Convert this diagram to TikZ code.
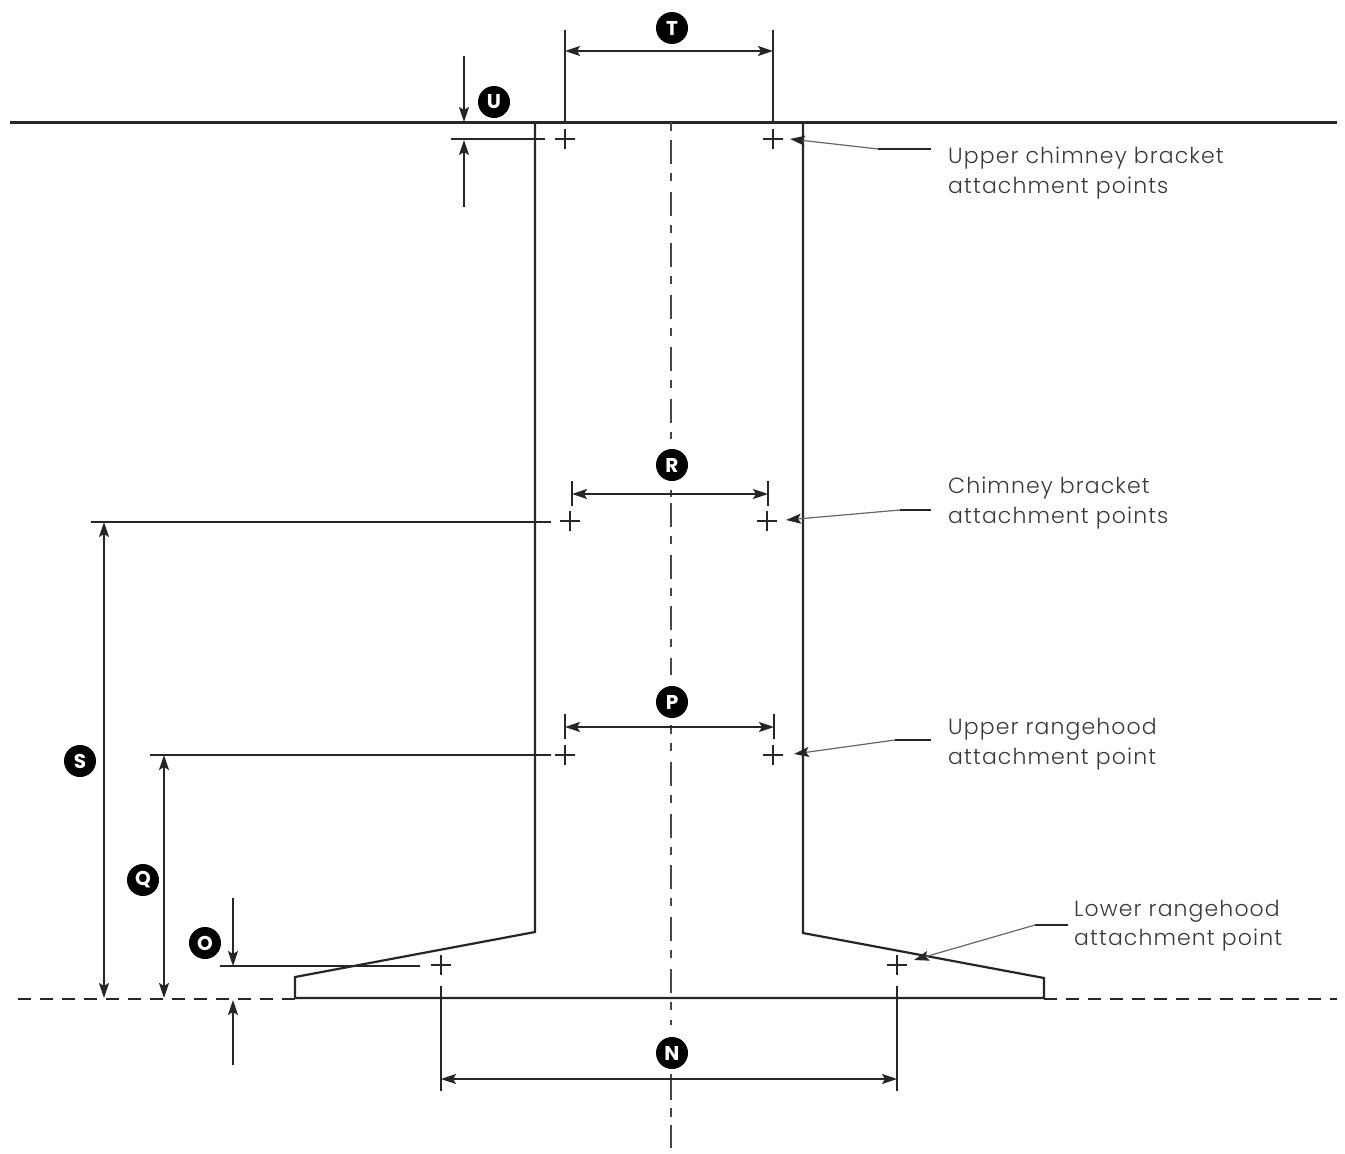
\documentclass[tikz,border=0pt]{standalone}
\usepackage{fontspec}
\usetikzlibrary{arrows.meta}
\newfontfamily\lblfont{Poppins Light}[LetterSpace=5]
\newfontfamily\badgefont{Poppins}[BoldFont=* Bold]
\definecolor{ink}{HTML}{262626}
\definecolor{txt}{HTML}{3a3a3a}
\tikzset{
  x=1pt,y=-1pt,
  main/.style={draw=ink,line width=2.2pt},
  thinline/.style={draw=ink,line width=1.8pt},
  headtip/.tip={Stealth[length=15pt,width=10pt,inset=3pt,ink]},
  dim/.style={draw=ink,line width=1.8pt,{headtip}-{headtip}},
  onearrow/.style={draw=ink,line width=1.8pt,-{headtip}},
  centre/.style={draw=ink!85,line width=2pt},
  centredash/.style={centre,dash pattern=on 24pt off 9pt on 8pt off 10.7pt},
  datum/.style={draw=ink,line width=2pt,dash pattern=on 13pt off 9pt},
  leader/.style={draw=ink!70,line width=1.2pt},
  leaderflat/.style={draw=ink,line width=1.7pt},
  leadtip/.style={-{headtip}},
  badge/.style={circle,fill=black,inner sep=0pt,minimum size=32pt,text=white,font=\badgefont\bfseries\fontsize{20}{20}\selectfont},
  lbl/.style={anchor=base west,inner sep=0pt,text=txt,font=\lblfont\fontsize{22}{22}\selectfont},
}
\newcommand{\plusmark}[3]{%
  \coordinate (#1) at (#2,#3);
  \draw[draw=ink,line width=1.4pt] ([xshift=-10pt]#1) -- ([xshift=10pt]#1) ([yshift=-10pt]#1) -- ([yshift=10pt]#1);
}
\begin{document}
\begin{tikzpicture}
\useasboundingbox (0,0) rectangle (1345,1154);
\fill[white] (0,0) rectangle (1345,1154);
% wall line
\coordinate (wallL) at (10,122.5); \coordinate (wallR) at (1337,122.5);
\draw[main] (wallL) -- (wallR);
% body
\coordinate (a1) at (535,122); \coordinate (a2) at (535,932); \coordinate (a3) at (295,977); \coordinate (a4) at (295,998);
\coordinate (b1) at (803,122); \coordinate (b2) at (803,933); \coordinate (b3) at (1044,978); \coordinate (b4) at (1044,998);
\draw[main,line join=miter] (a1) -- (a2) -- (a3) -- (a4) -- (b4) -- (b3) -- (b2) -- (b1);
% datum
\coordinate (dL) at (15,999); \coordinate (dLe) at (295,999); \coordinate (dR) at (1044,999); \coordinate (dRe) at (1337,999);
\draw[datum] (dLe) -- (dL);
\draw[datum] (dR) -- (dRe);
% centre line
\coordinate (c0) at (671,122); \coordinate (c0e) at (671,131);
\coordinate (c1) at (671,140); \coordinate (c1e) at (671,439);
\coordinate (c2) at (671,490); \coordinate (c2e) at (671,497);
\coordinate (c3) at (671,503); \coordinate (c3e) at (671,675);
\coordinate (c4) at (671,725); \coordinate (c4e) at (671,734);
\coordinate (c5) at (671,743); \coordinate (c5e) at (671,751);
\coordinate (c6) at (671,762); \coordinate (c6e) at (671,1012);
\coordinate (c7) at (671,1020); \coordinate (c7e) at (671,1025);
\coordinate (c8) at (671,1074); \coordinate (c8e) at (671,1100);
\coordinate (c9) at (671,1108); \coordinate (c9e) at (671,1117);
\coordinate (c10) at (671,1125); \coordinate (c10e) at (671,1148);
\draw[centre] (c0) -- (c0e) (c2) -- (c2e) (c4) -- (c4e) (c5) -- (c5e) (c7) -- (c7e) (c8) -- (c8e) (c9) -- (c9e) (c10) -- (c10e);
\draw[centredash] (c1) -- (c1e);
\draw[centredash] (c3) -- (c3e);
\draw[centredash] (c6) -- (c6e);
% plus marks
\plusmark{pA}{565}{139}\plusmark{pB}{773}{139}
\plusmark{pC}{570}{521}\plusmark{pD}{767}{521}
\plusmark{pE}{565}{755}\plusmark{pF}{773}{755}
\plusmark{pG}{441}{965}\plusmark{pH}{897}{965}
% T
\coordinate (t1) at (565,30); \coordinate (t1b) at (565,122); \coordinate (t2) at (773,30); \coordinate (t2b) at (773,122);
\coordinate (t3) at (565,51); \coordinate (t4) at (773,51);
\draw[thinline] (t1) -- (t1b); \draw[thinline] (t2) -- (t2b);
\draw[dim] (t3) -- (t4);
\node[badge] (T) at (672,28) {T};
% U
\coordinate (u1) at (464,56); \coordinate (u2) at (464,122); \coordinate (u3) at (464,207); \coordinate (u4) at (464,140);
\coordinate (u5) at (451,139); \coordinate (u6) at (545,139);
\draw[onearrow] (u1) -- (u2); \draw[onearrow] (u3) -- (u4);
\draw[thinline] (u5) -- (u6);
\node[badge] (U) at (494,102) {U};
% R
\coordinate (r1) at (572,481); \coordinate (r1b) at (572,506); \coordinate (r2) at (768,481); \coordinate (r2b) at (768,506);
\coordinate (r3) at (572,494); \coordinate (r4) at (768,494);
\draw[thinline] (r1) -- (r1b); \draw[thinline] (r2) -- (r2b);
\draw[dim] (r3) -- (r4);
\node[badge] (R) at (672,465) {R};
% P
\coordinate (p1) at (565,714); \coordinate (p1b) at (565,739); \coordinate (p2) at (774,714); \coordinate (p2b) at (774,739);
\coordinate (p3) at (565,727); \coordinate (p4) at (774,727);
\draw[thinline] (p1) -- (p1b); \draw[thinline] (p2) -- (p2b);
\draw[dim] (p3) -- (p4);
\node[badge] (P) at (672,702) {P};
% N
\coordinate (n1) at (441,986); \coordinate (n1b) at (441,1091); \coordinate (n2) at (897,986); \coordinate (n2b) at (897,1091);
\coordinate (n3) at (441,1079); \coordinate (n4) at (897,1079);
\draw[thinline] (n1) -- (n1b); \draw[thinline] (n2) -- (n2b);
\draw[dim] (n3) -- (n4);
\node[badge] (N) at (672,1053) {N};
% S
\coordinate (s1) at (91,522); \coordinate (s2) at (551,522); \coordinate (s3) at (104,522); \coordinate (s4) at (104,998);
\draw[thinline] (s1) -- (s2); \draw[dim] (s3) -- (s4);
\node[badge] (S) at (80,761) {S};
% Q
\coordinate (q1) at (150,755); \coordinate (q2) at (551,755); \coordinate (q3) at (164,755); \coordinate (q4) at (164,998);
\draw[thinline] (q1) -- (q2); \draw[dim] (q3) -- (q4);
\node[badge] (Q) at (143,880) {Q};
% O
\coordinate (o1) at (220,966); \coordinate (o2) at (420,966); \coordinate (o3) at (233,898); \coordinate (o4) at (233,966);
\coordinate (o5) at (233,1065); \coordinate (o6) at (233,1000);
\draw[thinline] (o1) -- (o2); \draw[onearrow] (o3) -- (o4); \draw[onearrow] (o5) -- (o6);
\node[badge] (O) at (205,943) {O};
% labels
\node[lbl] (L1) at (948,163) {Upper chimney bracket};
\node[lbl] (L1b) at (948,193) {attachment points};
\node[lbl] (L2) at (948,493) {Chimney bracket};
\node[lbl] (L2b) at (948,523) {attachment points};
\node[lbl] (L3) at (948,734) {Upper rangehood};
\node[lbl] (L3b) at (948,764) {attachment point};
\node[lbl] (L4) at (1074,916) {Lower rangehood};
\node[lbl] (L4b) at (1074,945) {attachment point};
% leaders
\coordinate (la1) at (931,149); \coordinate (la2) at (878,149); \coordinate (la3) at (790,139);
\draw[leaderflat] (la1) -- (la2);
\draw[leader,leadtip] (la2) -- (la3);
\coordinate (lb1) at (931,510); \coordinate (lb2) at (900,510); \coordinate (lb3) at (786,520);
\draw[leaderflat] (lb1) -- (lb2);
\draw[leader,leadtip] (lb2) -- (lb3);
\coordinate (lc1) at (931,740); \coordinate (lc2) at (895,740); \coordinate (lc3) at (794,754);
\draw[leaderflat] (lc1) -- (lc2);
\draw[leader,leadtip] (lc2) -- (lc3);
\coordinate (ld1) at (1068,925); \coordinate (ld2) at (1035,925); \coordinate (ld3) at (914,960);
\draw[leaderflat] (ld1) -- (ld2);
\draw[leader,leadtip] (ld2) -- (ld3);
\end{tikzpicture}
\end{document}
